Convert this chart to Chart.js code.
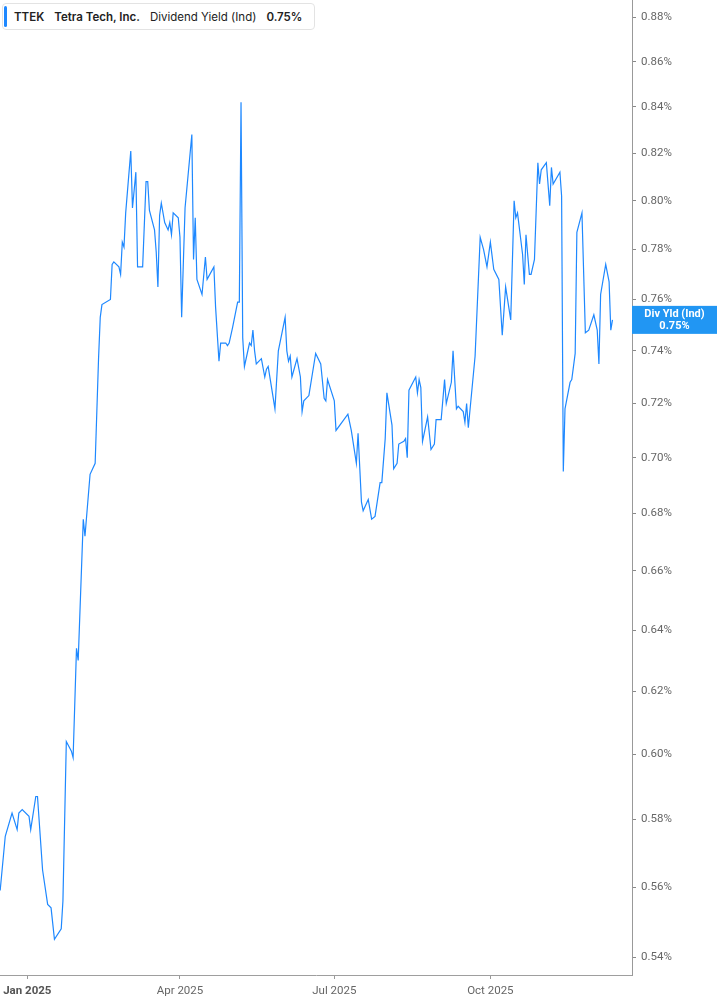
<!DOCTYPE html>
<html>
<head>
<meta charset="utf-8">
<script src="https://cdn.jsdelivr.net/npm/chart.js@4.4.1/dist/chart.umd.min.js"></script>
<style>
  body { margin: 0; background: #fff; }
  #wrap { position: relative; width: 717px; height: 1005px; }
  #legend {
    position: absolute; left: 2px; top: 3px; height: 27px;
    display: flex; align-items: center; gap: 10px;
    padding: 0 12px 0 11px; box-sizing: border-box;
    border: 1px solid #e3e3e3; border-radius: 4px; background: #fff;
    font-family: Inter, 'Noto Sans', sans-serif; font-size: 11.5px; color: #222;
  }
  #legend::before {
    content: ''; position: absolute; left: 1px; top: 2px; bottom: 2px; width: 3px;
    background: #1e88ff; border-radius: 2px;
  }
  #legend b { font-weight: 600; }
</style>
</head>
<body>
<div id="wrap">
  <canvas id="chart" width="717" height="1005"></canvas>
  <div id="legend"><b>TTEK</b><b>Tetra Tech, Inc.</b><span>Dividend Yield (Ind)</span><b id="lv"></b></div>
</div>
<script>
// days since 2025-01-01
const days = [-16, -13, -9, -6, -5, -3, 1, 2, 5, 6, 9, 12, 14, 16, 20, 21, 23, 26, 27, 29, 30, 33, 34, 37, 40, 42, 43, 44, 49, 50,
  51, 54, 55, 56, 57, 58, 61, 62, 64, 65, 68, 70, 71, 72, 75, 76, 77, 78, 79, 81, 83, 84, 85, 86, 89, 90, 91, 93, 97, 98,
  99, 100, 103, 105, 106, 110, 111, 113, 114, 117, 118, 119, 121, 124, 125, 126, 127, 128, 131, 132, 133, 134, 135, 138, 140, 141, 142, 146, 148, 152,
  153, 154, 155, 156, 159, 161, 162, 163, 166, 170, 173, 175, 176, 177, 181, 182, 189, 191, 194, 195, 197, 198, 201, 203, 205, 208, 209, 211, 212, 215,
  216, 218, 219, 222, 223, 224, 225, 229, 230, 231, 232, 233, 236, 238, 240, 241, 244, 246, 247, 250, 251, 253, 254, 257, 258, 259, 260, 264, 267, 269,
  271, 273, 275, 278, 280, 282, 285, 287, 288, 289, 292, 293, 294, 296, 297, 299, 301, 302, 303, 306, 308, 309, 310, 314, 315, 316, 317, 320, 321, 323,
  324, 327, 329, 331, 334, 336, 337, 338, 341, 343, 344, 345]

// dividend yield, %
const yields = [0.559, 0.575, 0.582, 0.577, 0.582, 0.583, 0.581, 0.577, 0.587, 0.587, 0.565, 0.555, 0.554, 0.545, 0.548, 0.556, 0.604, 0.601, 0.599, 0.634,
  0.630, 0.678, 0.672, 0.694, 0.698, 0.737, 0.753, 0.758, 0.760, 0.774, 0.775, 0.773, 0.770, 0.783, 0.781, 0.795, 0.821, 0.797, 0.812, 0.773,
  0.773, 0.808, 0.808, 0.796, 0.788, 0.779, 0.765, 0.794, 0.799, 0.791, 0.788, 0.791, 0.786, 0.795, 0.793, 0.785, 0.753, 0.797, 0.828, 0.776,
  0.793, 0.768, 0.762, 0.777, 0.768, 0.773, 0.757, 0.736, 0.743, 0.743, 0.742, 0.743, 0.749, 0.759, 0.759, 0.842, 0.745, 0.734, 0.743, 0.742,
  0.748, 0.740, 0.735, 0.737, 0.730, 0.733, 0.734, 0.718, 0.740, 0.753, 0.740, 0.736, 0.738, 0.730, 0.737, 0.730, 0.717, 0.721, 0.723, 0.739,
  0.735, 0.722, 0.721, 0.729, 0.721, 0.710, 0.716, 0.710, 0.698, 0.709, 0.684, 0.681, 0.685, 0.678, 0.679, 0.691, 0.691, 0.707, 0.724, 0.712,
  0.696, 0.698, 0.705, 0.706, 0.707, 0.700, 0.725, 0.730, 0.724, 0.729, 0.726, 0.706, 0.715, 0.703, 0.705, 0.714, 0.714, 0.729, 0.720, 0.728,
  0.740, 0.718, 0.719, 0.717, 0.713, 0.720, 0.711, 0.738, 0.785, 0.780, 0.773, 0.783, 0.772, 0.768, 0.746, 0.765, 0.752, 0.800, 0.793, 0.795,
  0.778, 0.766, 0.786, 0.770, 0.770, 0.776, 0.816, 0.807, 0.813, 0.816, 0.798, 0.814, 0.807, 0.812, 0.802, 0.695, 0.718, 0.728, 0.729, 0.739,
  0.787, 0.795, 0.747, 0.748, 0.754, 0.748, 0.735, 0.762, 0.774, 0.767, 0.748, 0.752]

const yTicks = [0.54, 0.56, 0.58, 0.60, 0.62, 0.64, 0.66, 0.68, 0.70, 0.72, 0.74, 0.76, 0.78, 0.80, 0.82, 0.84, 0.86, 0.88]
const xTicks = [0, 90, 181, 273]
const xTickLabels = ['Jan 2025', 'Apr 2025', 'Jul 2025', 'Oct 2025']

const lineColor = '#1e88ff'
const lastValue = yields[yields.length - 1]
document.getElementById('lv').textContent = lastValue.toFixed(2) + '%'

// blue value tag on the right axis
const lastLabel = {
  id: 'lastLabel',
  afterDraw (chart) {
    const { ctx, chartArea, scales } = chart
    const y = scales.y.getPixelForValue(lastValue)
    const x0 = chartArea.right
    const w = chart.width - x0
    ctx.save()
    ctx.fillStyle = '#2196f3'
    ctx.fillRect(x0, y - 14, w, 28)
    ctx.fillStyle = '#fff'
    ctx.textAlign = 'center'
    ctx.textBaseline = 'middle'
    ctx.font = 'bold 11px Roboto, sans-serif'
    ctx.fillText('Div Yld (Ind)', x0 + w / 2, y - 6)
    ctx.fillText(lastValue.toFixed(2) + '%', x0 + w / 2, y + 6)
    ctx.restore()
  }
}

const noPad = (s) => { s.paddingTop = 0; s.paddingBottom = 0; s.paddingLeft = 0; s.paddingRight = 0 }

const context = document.getElementById('chart').getContext('2d')
const chart = new Chart(context, {
  type: 'line',
  data: {
    datasets: [{
      data: days.map((d, i) => ({ x: d, y: yields[i] })),
      borderColor: lineColor,
      borderWidth: 1.2,
      pointRadius: 0,
      tension: 0,
      fill: false
    }]
  },
  options: {
    responsive: false,
    animation: false,
    layout: { padding: 0 },
    plugins: { legend: { display: false }, tooltip: { enabled: false } },
    scales: {
      x: {
        type: 'linear',
        min: -16.1,
        max: 356.5,
        afterBuildTicks: (s) => { s.ticks = xTicks.map(v => ({ value: v })) },
        afterFit: (s) => { s.height = 30; noPad(s) },
        ticks: {
          autoSkip: false,
          maxRotation: 0,
          padding: 5,
          color: (c) => c.index === 0 ? '#555' : '#666',
          font: (c) => ({ family: 'Roboto', size: 11.5, weight: c.index === 0 ? 'bold' : 'normal' }),
          callback: (v, i) => xTickLabels[i]
        },
        grid: { drawOnChartArea: false, drawTicks: true, tickLength: 4, tickColor: '#999' },
        border: { display: true, color: '#9e9e9e', width: 1 }
      },
      y: {
        type: 'logarithmic',
        position: 'right',
        min: 0.535,
        max: 0.888,
        afterBuildTicks: (s) => { s.ticks = yTicks.map(v => ({ value: v })) },
        afterFit: (s) => { s.width = 85; noPad(s) },
        ticks: {
          autoSkip: false,
          padding: 5,
          color: '#666',
          font: { family: 'Roboto', size: 11.5 },
          callback: (v) => Number(v).toFixed(2) + '%'
        },
        grid: { drawOnChartArea: false, drawTicks: true, tickLength: 4, tickColor: '#888' },
        border: { display: true, color: '#999', width: 1 }
      }
    }
  },
  plugins: [lastLabel]
})
</script>
</body>
</html>
